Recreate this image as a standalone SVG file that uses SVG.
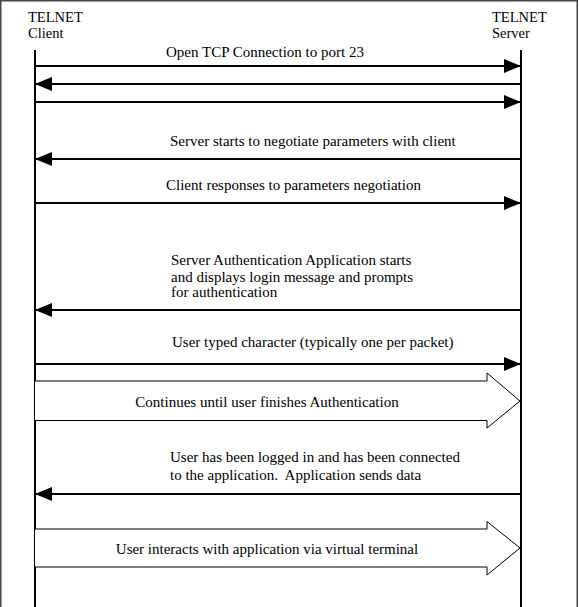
<svg xmlns="http://www.w3.org/2000/svg" width="579" height="607" viewBox="0 0 579 607">
<defs>
<marker id="ah" markerWidth="17" markerHeight="14" refX="17" refY="7" orient="auto" markerUnits="userSpaceOnUse">
<path d="M0,0 L17,7 L0,14 Z" fill="#000"/>
</marker>
<style>
text{font-family:'Liberation Serif',serif;font-size:15px;fill:#000}
.hd{font-size:14.5px}
.life{stroke:#000;stroke-width:2;fill:none}
.msg{stroke:#000;stroke-width:2;fill:none;marker-end:url(#ah)}
.blk{stroke:#000;stroke-width:1;fill:#fff}
</style>
</defs>
<rect x="0.75" y="0.75" width="576.5" height="620" fill="#fff" stroke="#444" stroke-width="1.5"/>
<g id="client">
<text class="hd" x="28" y="21.5">TELNET</text>
<text class="hd" x="28" y="38">Client</text>
<line class="life" x1="35" y1="50" x2="35" y2="607"/>
</g>
<g id="server">
<text class="hd" x="492" y="21.5">TELNET</text>
<text class="hd" x="492" y="38">Server</text>
<line class="life" x1="521" y1="50" x2="521" y2="607"/>
</g>
<g id="connectors">
<line class="msg" x1="35" y1="66" x2="521" y2="66"/>
<text x="166" y="57">Open TCP Connection to port 23</text>
<line class="msg" x1="521" y1="84" x2="35" y2="84"/>
<line class="msg" x1="35" y1="102" x2="521" y2="102"/>
<line class="msg" x1="521" y1="159" x2="35" y2="159"/>
<text x="170" y="145.5">Server starts to negotiate parameters with client</text>
<line class="msg" x1="35" y1="203" x2="521" y2="203"/>
<text x="166" y="190">Client responses to parameters negotiation</text>
<line class="msg" x1="521" y1="310" x2="35" y2="310"/>
<text x="171" y="265">Server Authentication Application starts</text>
<text x="171" y="281.5">and displays login message and prompts</text>
<text x="171" y="297">for authentication</text>
<line class="msg" x1="35" y1="364" x2="521" y2="364"/>
<text x="172" y="347">User typed character (typically one per packet)</text>
<path class="blk" d="M35,381 H487 V373 L520,401 L487,428 V420.5 H35"/>
<text x="267" y="406.5" text-anchor="middle">Continues until user finishes Authentication</text>
<line class="msg" x1="521" y1="494" x2="35" y2="494"/>
<text x="170" y="462">User has been logged in and has been connected</text>
<text x="170" y="480" xml:space="preserve">to the application.  Application sends data</text>
<path class="blk" d="M35,529 H487 V521.5 L520,548 L487,575 V567 H35"/>
<text x="267" y="554" text-anchor="middle">User interacts with application via virtual terminal</text>
</g>
</svg>
